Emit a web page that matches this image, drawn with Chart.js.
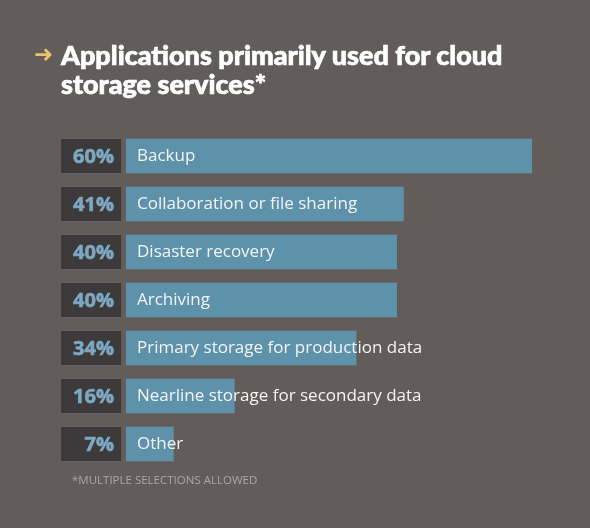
<!DOCTYPE html>
<html>
<head>
<meta charset="utf-8">
<script src="https://cdn.jsdelivr.net/npm/chart.js@4"></script>
<style>
  html, body { margin: 0; padding: 0; background: #625c5b; }
  #wrap { position: relative; width: 590px; height: 528px; overflow: hidden; }
  #title {
    position: absolute; left: 61px; top: 40px; width: 500px;
    font-family: Lato, sans-serif; font-weight: 900; font-size: 27px;
    line-height: 29px; color: #ffffff; -webkit-text-stroke: 0.7px #ffffff;
  }
  #arrow {
    position: absolute; left: 34px; top: 41px;
    font-family: "DejaVu Sans", sans-serif; font-weight: bold; font-size: 23px; color: #e6c46e;
  }
  #note {
    position: absolute; left: 72px; top: 472px;
    font-family: "Open Sans", sans-serif; font-size: 11.5px; color: #aca6a5;
  }
  canvas { position: absolute; left: 0; top: 0; }
</style>
</head>
<body>
<div id="wrap">
  <canvas id="barChart" width="590" height="528"></canvas>
  <div id="arrow">&#10140;</div>
  <div id="title">Applications primarily used for cloud storage services*</div>
  <div id="note">*MULTIPLE SELECTIONS ALLOWED</div>
</div>
<script>
const categories = [
  "Backup",
  "Collaboration or file sharing",
  "Disaster recovery",
  "Archiving",
  "Primary storage for production data",
  "Nearline storage for secondary data",
  "Other"
];
const shares = [60, 41, 40, 40, 34, 16, 7];
const xTicks = [0, 60];

/**
 * Dark percentage boxes to the left of each bar, plus the category text
 */
const labelPlugin = {
  id: 'barLabels',
  afterDatasetsDraw(chart) {
    const ctx = chart.ctx;
    const meta = chart.getDatasetMeta(0);
    const left = chart.chartArea.left;
    ctx.save();
    meta.data.forEach((bar, i) => {
      const h = bar.height;
      const top = bar.y - h / 2;
      ctx.fillStyle = '#3c3a3b';
      ctx.fillRect(61, top, left - 5 - 61, h);

      ctx.fillStyle = '#7ea7c0';
      ctx.strokeStyle = '#7ea7c0';
      ctx.lineWidth = 0.6;
      ctx.font = 'bold 20px "Open Sans", sans-serif';
      ctx.textAlign = 'right';
      ctx.textBaseline = 'middle';
      ctx.fillText(shares[i] + '%', left - 12, bar.y + 1);
      ctx.strokeText(shares[i] + '%', left - 12, bar.y + 1);

      ctx.fillStyle = '#f4f4f4';
      ctx.font = '17px "Open Sans", sans-serif';
      ctx.textAlign = 'left';
      ctx.fillText(categories[i], left + 11, bar.y);
    });
    ctx.restore();
  }
};

new Chart(document.getElementById('barChart'), {
  type: 'bar',
  data: {
    labels: categories,
    datasets: [{
      data: shares,
      backgroundColor: '#5e92ab',
      borderWidth: 0,
      barThickness: 34
    }]
  },
  options: {
    indexAxis: 'y',
    responsive: false,
    animation: false,
    layout: { padding: { left: 126, right: 58, top: 132, bottom: 60 } },
    scales: {
      x: { min: xTicks[0], max: xTicks[1], display: false },
      y: { display: false }
    },
    plugins: {
      legend: { display: false },
      tooltip: { enabled: false }
    }
  },
  plugins: [labelPlugin]
});
</script>
</body>
</html>
